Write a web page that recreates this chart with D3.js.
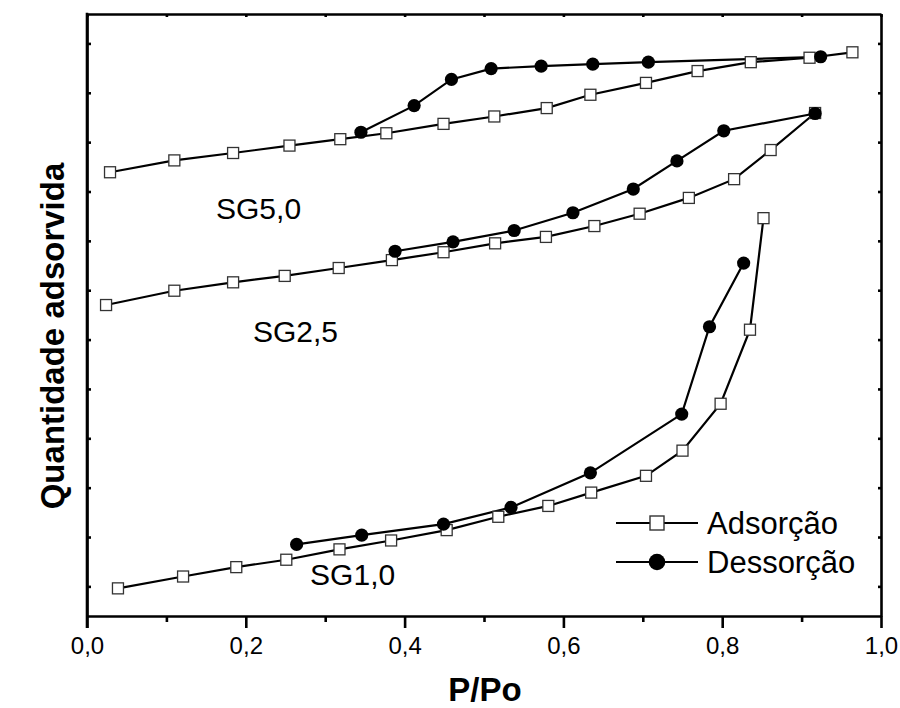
<!DOCTYPE html>
<html>

<head>
    <meta charset="utf-8">
    <style>
        body {
            margin: 0;
            background: #fff;
            font-family: 'Liberation Sans', Arial, sans-serif;
        }

        svg {
            display: block;
        }

        .tick-label {
            font-size: 24px;
        }

        .axis-title {
            font-size: 33px;
            font-weight: bold;
        }

        .sample-label {
            font-size: 30px;
        }

        .legend-label {
            font-size: 31px;
        }
    </style>
</head>

<body>
    <svg width="900" height="708"></svg>
</body>

<script src="https://d3js.org/d3.v7.min.js"></script>

<script>
    // values (P/Po, arbitrary amount)
    let sg10Ads = [[0.039, 0.56], [0.121, 0.80], [0.188, 0.99], [0.251, 1.14], [0.318, 1.35],
        [0.383, 1.53], [0.453, 1.74], [0.518, 2.01], [0.581, 2.23], [0.635, 2.50],
        [0.704, 2.84], [0.750, 3.35], [0.798, 4.30], [0.835, 5.80], [0.852, 8.06]]
    let sg10Des = [[0.264, 1.45], [0.346, 1.64], [0.449, 1.86], [0.534, 2.20], [0.634, 2.90],
        [0.749, 4.09], [0.784, 5.86], [0.827, 7.15]]

    let sg25Ads = [[0.024, 6.30], [0.110, 6.59], [0.184, 6.76], [0.249, 6.89], [0.317, 7.05],
        [0.384, 7.21], [0.449, 7.37], [0.514, 7.55], [0.578, 7.68], [0.639, 7.90],
        [0.696, 8.15], [0.758, 8.47], [0.815, 8.85], [0.861, 9.44], [0.917, 10.19]]
    let sg25Des = [[0.388, 7.39], [0.461, 7.58], [0.538, 7.81], [0.612, 8.17], [0.688, 8.65],
        [0.743, 9.22], [0.802, 9.83], [0.917, 10.18]]

    let sg50Ads = [[0.029, 8.99], [0.110, 9.23], [0.184, 9.38], [0.255, 9.53], [0.319, 9.66],
        [0.377, 9.78], [0.449, 9.97], [0.513, 10.12], [0.579, 10.29], [0.634, 10.56],
        [0.704, 10.80], [0.769, 11.04], [0.836, 11.22], [0.910, 11.31], [0.964, 11.42]]
    let sg50Des = [[0.345, 9.80], [0.412, 10.34], [0.459, 10.87], [0.509, 11.09], [0.572, 11.14],
        [0.637, 11.18], [0.707, 11.22], [0.924, 11.33]]

    let xTicks = [0, 0.2, 0.4, 0.6, 0.8, 1.0]
    let xMinorTicks = [0.1, 0.3, 0.5, 0.7, 0.9]
    let yTicks = [0.6, 1.6, 2.6, 3.6, 4.6, 5.6, 6.6, 7.6, 8.6, 9.6, 10.6, 11.6]

    let sampleNames = ["SG5,0", "SG2,5", "SG1,0"]
    let samplePos = [[0.1625, 8.04], [0.209, 5.55], [0.281, 0.63]]

    let legendNames = ["Adsorção", "Dessorção"]

    let m = { left: 87, right: 881, top: 14, bottom: 616 }

    let svg = d3.select("svg")

    let x = d3.scaleLinear().domain([0, 1]).range([m.left, m.right])
    let y = d3.scaleLinear().domain([0, 12.196]).range([m.bottom, m.top])

    let fmt = d => d3.format(".1f")(d).replace(".", ",")

    // bottom axis, ticks outward
    svg.append("g")
        .attr("transform", `translate(0,${m.bottom})`)
        .call(d3.axisBottom(x).tickValues(xTicks).tickFormat(fmt).tickSize(12).tickSizeOuter(0).tickPadding(9))
        .call(g => g.selectAll("text").attr("class", "tick-label").attr("font-family", null).attr("font-size", null).attr("fill", "#000"))
        .call(g => g.selectAll("line, path").attr("stroke", "#000").attr("stroke-width", 2.6))

    svg.append("g")
        .attr("transform", `translate(0,${m.bottom})`)
        .call(d3.axisBottom(x).tickValues(xMinorTicks).tickFormat("").tickSize(6).tickSizeOuter(0))
        .call(g => g.select(".domain").remove())
        .call(g => g.selectAll("line").attr("stroke", "#000").attr("stroke-width", 2.6))

    // top axis, tiny inward ticks
    svg.append("g")
        .attr("transform", `translate(0,${m.top})`)
        .call(d3.axisTop(x).tickValues(xTicks.concat(xMinorTicks)).tickFormat("").tickSize(-3).tickSizeOuter(0))
        .call(g => g.selectAll("line, path").attr("stroke", "#000").attr("stroke-width", 2.6))

    // left axis, no labels
    svg.append("g")
        .attr("transform", `translate(${m.left},0)`)
        .call(d3.axisLeft(y).tickValues(yTicks).tickFormat("").tickSize(-4).tickSizeOuter(0))
        .call(g => g.selectAll("line, path").attr("stroke", "#000").attr("stroke-width", 2.6))

    svg.append("g")
        .attr("transform", `translate(${m.right},0)`)
        .call(d3.axisRight(y).tickValues(yTicks).tickFormat("").tickSize(-3).tickSizeOuter(0))
        .call(g => g.selectAll("line, path").attr("stroke", "#000").attr("stroke-width", 2.6))

    // left frame line, running down to the 0,0 tick
    svg.append("line")
        .attr("x1", m.left).attr("x2", m.left)
        .attr("y1", m.top - 1.3).attr("y2", m.bottom + 12)
        .attr("stroke", "#000").attr("stroke-width", 2.6)

    // axis titles
    svg.append("text")
        .attr("class", "axis-title")
        .attr("x", 485)
        .attr("y", 701)
        .attr("text-anchor", "middle")
        .text("P/Po")

    svg.append("text")
        .attr("class", "axis-title")
        .attr("transform", "translate(64,336) rotate(-90)")
        .attr("text-anchor", "middle")
        .text("Quantidade adsorvida")

    let line = d3.line()
        .x(d => x(d[0]))
        .y(d => y(d[1]))

    let series = [
        { data: sg10Ads, kind: "ads" }, { data: sg10Des, kind: "des" },
        { data: sg25Ads, kind: "ads" }, { data: sg25Des, kind: "des" },
        { data: sg50Ads, kind: "ads" }, { data: sg50Des, kind: "des" }
    ]

    let plot = svg.append("g")

    series.forEach(s => {
        plot.append("path")
            .datum(s.data)
            .attr("d", line)
            .attr("fill", "none")
            .attr("stroke", "#000")
            .attr("stroke-width", 2.2)
    })

    // markers on top of all lines
    series.forEach(s => {
        if (s.kind == "ads") {
            plot.selectAll(null)
                .data(s.data)
                .join("rect")
                .attr("x", d => x(d[0]) - 5.5)
                .attr("y", d => y(d[1]) - 5.5)
                .attr("width", 11)
                .attr("height", 11)
                .attr("fill", "#fff")
                .attr("stroke", "#333")
                .attr("stroke-width", 1.3)
        } else {
            plot.selectAll(null)
                .data(s.data)
                .join("circle")
                .attr("cx", d => x(d[0]))
                .attr("cy", d => y(d[1]))
                .attr("r", 6.6)
                .attr("fill", "#000")
        }
    })

    // sample labels
    svg.selectAll(".sample-label")
        .data(sampleNames)
        .join("text")
        .attr("class", "sample-label")
        .attr("x", (d, i) => x(samplePos[i][0]))
        .attr("y", (d, i) => y(samplePos[i][1]))
        .text(d => d)

    // legend
    let legend = svg.append("g").attr("transform", "translate(616,523)")

    legendNames.forEach((name, i) => {
        let row = legend.append("g").attr("transform", `translate(0,${i * 39})`)
        row.append("line")
            .attr("x1", 0).attr("x2", 82)
            .attr("stroke", "#000").attr("stroke-width", 2)
        if (i == 0) {
            row.append("rect")
                .attr("x", 34).attr("y", -7)
                .attr("width", 14).attr("height", 14)
                .attr("fill", "#fff").attr("stroke", "#333").attr("stroke-width", 1.4)
        } else {
            row.append("circle")
                .attr("cx", 41).attr("r", 8.3).attr("fill", "#000")
        }
        row.append("text")
            .attr("class", "legend-label")
            .attr("x", 91)
            .attr("y", 11)
            .text(name)
    })
</script>

</html>
